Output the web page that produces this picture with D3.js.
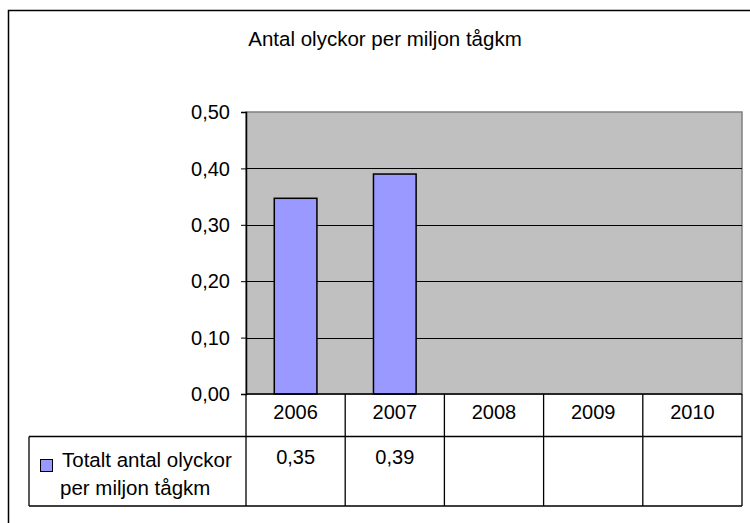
<!DOCTYPE html>
<html>
<head>
<meta charset="utf-8">
<script src="https://cdn.jsdelivr.net/npm/d3@7"></script>
<style>
  body { margin: 0; background: #fff; }
  svg text { font-family: "Liberation Sans", Arial, sans-serif; fill: #000; }
</style>
</head>
<body>
<div id="chart"></div>
<script>
// Chart data
const title = 'Antal olyckor per miljon tågkm';
const years = ['2006', '2007', '2008', '2009', '2010'];
const values = [0.347, 0.390, null, null, null];
const seriesName = ['Totalt antal olyckor', 'per miljon tågkm'];
const yTicks = [0, 0.1, 0.2, 0.3, 0.4, 0.5];

const width = 750;
const height = 523;

// plot area box
const plot = { left: 246, right: 742, top: 112, bottom: 394 };
const tableRow1 = 436.5;
const tableBottom = 506;
const legendLeft = 29;

const sv = d3.formatLocale({ decimal: ',', thousands: ' ', grouping: [3], currency: ['', ' kr'] });
const fmt = sv.format('.2f');

const svg = d3.select('#chart')
    .append('svg')
    .attr('width', width)
    .attr('height', height);

// outer chart frame (runs off the right and bottom edge)
svg.append('rect')
    .attr('x', 8.5).attr('y', 10.5)
    .attr('width', 760).attr('height', 530)
    .attr('fill', '#fff')
    .attr('stroke', '#000')
    .attr('stroke-width', 1.5);

svg.append('text')
    .attr('x', 385).attr('y', 46)
    .attr('text-anchor', 'middle')
    .style('font-size', '20.5px')
    .text(title);

const x = d3.scaleBand()
    .domain(years)
    .range([plot.left, plot.right]);

const y = d3.scaleLinear()
    .domain([0, 0.5])
    .range([plot.bottom, plot.top]);

// plot background
svg.append('rect')
    .attr('x', plot.left).attr('y', plot.top)
    .attr('width', plot.right - plot.left)
    .attr('height', plot.bottom - plot.top)
    .attr('fill', '#c0c0c0')
    .attr('stroke', '#808080')
    .attr('stroke-width', 1.5);

// gridlines
svg.append('g')
    .selectAll('line')
    .data(yTicks.filter(d => d > 0 && d < 0.5))
    .enter()
    .append('line')
    .attr('x1', plot.left).attr('x2', plot.right)
    .attr('y1', d => Math.round(y(d)) + 0.5)
    .attr('y2', d => Math.round(y(d)) + 0.5)
    .attr('stroke', '#000')
    .attr('stroke-width', 1);

// bars
const barW = x.bandwidth() * 0.43;
svg.append('g')
    .selectAll('rect')
    .data(years.map((yr, i) => ({ yr, v: values[i] })).filter(d => d.v != null))
    .enter()
    .append('rect')
    .attr('x', d => x(d.yr) + x.bandwidth() / 2 - barW / 2)
    .attr('y', d => y(d.v))
    .attr('width', barW)
    .attr('height', d => y(0) - y(d.v))
    .attr('fill', '#9999ff')
    .attr('stroke', '#000')
    .attr('stroke-width', 1.5);

// y axis
const yAxis = d3.axisLeft(y)
    .tickValues(yTicks)
    .tickSize(5)
    .tickPadding(11)
    .tickFormat(fmt);

const ya = svg.append('g')
    .attr('transform', `translate(${plot.left},0)`)
    .call(yAxis);
ya.select('.domain').attr('stroke', '#000').attr('stroke-width', 1.5);
ya.selectAll('.tick line').attr('stroke', '#000');
ya.selectAll('.tick text')
    .attr('dy', '0.33em')
    .style('font-size', '20px')
    .style('font-family', '"Liberation Sans", Arial, sans-serif');

// data table
const table = svg.append('g')
    .attr('stroke', '#000')
    .attr('stroke-width', 1.3)
    .attr('fill', 'none');

table.append('line')
    .attr('x1', plot.left).attr('x2', plot.right)
    .attr('y1', plot.bottom).attr('y2', plot.bottom);
table.append('line')
    .attr('x1', legendLeft).attr('x2', plot.right)
    .attr('y1', tableRow1).attr('y2', tableRow1);
table.append('line')
    .attr('x1', legendLeft).attr('x2', plot.right)
    .attr('y1', tableBottom).attr('y2', tableBottom);
table.append('line')
    .attr('x1', legendLeft).attr('x2', legendLeft)
    .attr('y1', tableRow1).attr('y2', tableBottom);
table.selectAll('line.col')
    .data(years.concat(['end']))
    .enter()
    .append('line')
    .attr('class', 'col')
    .attr('x1', d => d === 'end' ? plot.right : x(d))
    .attr('x2', d => d === 'end' ? plot.right : x(d))
    .attr('y1', plot.bottom).attr('y2', tableBottom);

// year headers
svg.append('g')
    .selectAll('text')
    .data(years)
    .enter()
    .append('text')
    .attr('x', d => x(d) + x.bandwidth() / 2)
    .attr('y', 419)
    .attr('text-anchor', 'middle')
    .style('font-size', '20px')
    .text(d => d);

// values row
svg.append('g')
    .selectAll('text')
    .data(years.map((yr, i) => ({ yr, v: values[i] })).filter(d => d.v != null))
    .enter()
    .append('text')
    .attr('x', d => x(d.yr) + x.bandwidth() / 2)
    .attr('y', 464)
    .attr('text-anchor', 'middle')
    .style('font-size', '20px')
    .text(d => fmt(d.v));

// legend key in table
svg.append('rect')
    .attr('x', 40.5).attr('y', 459.5)
    .attr('width', 12).attr('height', 12)
    .attr('fill', '#9999ff')
    .attr('stroke', '#000')
    .attr('stroke-width', 1);

svg.append('g')
    .selectAll('text')
    .data(seriesName)
    .enter()
    .append('text')
    .attr('x', (d, i) => i === 0 ? 62 : 60)
    .attr('y', (d, i) => 467 + i * 28)
    .style('font-size', '20.5px')
    .text(d => d);
</script>
</body>
</html>
